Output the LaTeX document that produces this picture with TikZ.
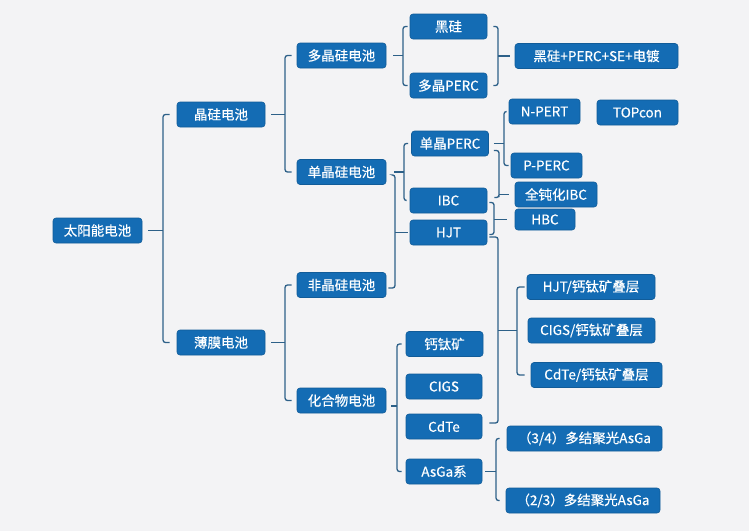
\documentclass[tikz,border=0pt]{standalone}
\usepackage{fontspec}
\setmainfont{Noto Sans CJK SC}[FakeBold=0.4]
\usetikzlibrary{positioning}

\begin{document}
\begin{tikzpicture}[x=1pt, y=-1pt, every node/.style={font=\fontsize{13.5}{15}\selectfont},
    cell/.style={rectangle, rounded corners=3pt, fill=cellblue, draw=cellblue!85!black, line width=0.6pt,
        text=white, minimum height=25, inner sep=0pt},
    link/.style={draw=linkblue, line width=1.3pt, rounded corners=2.5pt}]
    % Define consistent colors
    \definecolor{cellblue}{RGB}{20,108,180}
    \definecolor{linkblue}{RGB}{45,96,136}
    \definecolor{paper}{RGB}{243,243,245}

    \fill[paper] (0,0) rectangle (749,531);

    % Boxes
    \node[cell, minimum width=89] (root) at (97.5,230.5) {太阳能电池};
    \node[cell, minimum width=88] (jg) at (221,114.5) {晶硅电池};
    \node[cell, minimum width=88] (bm) at (221,342.5) {薄膜电池};
    \node[cell, minimum width=89] (djg) at (341.5,55.5) {多晶硅电池};
    \node[cell, minimum width=89] (dan) at (341.5,172) {单晶硅电池};
    \node[cell, minimum width=89] (fei) at (341.5,285) {非晶硅电池};
    \node[cell, minimum width=89] (hhw) at (341.5,400.5) {化合物电池};
    \node[cell, minimum width=77] (hg) at (448.5,26.5) {黑硅};
    \node[cell, minimum width=77] (dperc) at (448.5,85.5) {多晶PERC};
    \node[cell, minimum width=163] (mix) at (596.5,56) {黑硅+PERC+SE+电镀};
    \node[cell, minimum width=77] (sperc) at (450,143.5) {单晶PERC};
    \node[cell, minimum width=77] (ibc) at (448.5,200.5) {IBC};
    \node[cell, minimum width=77] (hjt) at (448.5,232.5) {HJT};
    \node[cell, minimum width=71] (npert) at (544.5,111.5) {N-PERT};
    \node[cell, minimum width=81] (topcon) at (637.5,112.5) {TOPcon};
    \node[cell, minimum width=71] (pperc) at (546.5,165.5) {P-PERC};
    \node[cell, minimum width=82] (qibc) at (556,194.5) {全钝化IBC};
    \node[cell, minimum width=60, minimum height=21] (hbc) at (545,219.5) {HBC};
    \node[cell, minimum width=128] (hjtp) at (591,287) {HJT/钙钛矿叠层};
    \node[cell, minimum width=127] (cigsp) at (591.5,330.5) {CIGS/钙钛矿叠层};
    \node[cell, minimum width=131] (cdtep) at (596.5,375) {CdTe/钙钛矿叠层};
    \node[cell, minimum width=77] (gtk) at (444.5,344) {钙钛矿};
    \node[cell, minimum width=76] (cigs) at (444,386.5) {CIGS};
    \node[cell, minimum width=76] (cdte) at (444,426.5) {CdTe};
    \node[cell, minimum width=76] (asga) at (444,471.5) {AsGa系};
    \node[cell, minimum width=155] (g34) at (584.5,438.5) {（3/4）多结聚光AsGa};
    \node[cell, minimum width=154] (g23) at (583,500.5) {（2/3）多结聚光AsGa};

    % Opening brackets
    \coordinate (s1) at (163,230.5);
    \draw[link] ([xshift=6]root.east) -- (s1);
    \draw[link] ([xshift=-7]jg.west) -| (s1) |- ([xshift=-7]bm.west);

    \coordinate (s2) at (285,114.5);
    \draw[link] ([xshift=6]jg.east) -- (s2);
    \draw[link] ([xshift=-5]djg.west) -| (s2) |- ([xshift=-5]dan.west);

    \coordinate (s3) at (403,55.5);
    \draw[link] ([xshift=7]djg.east) -- (s3);
    \draw[link] ([xshift=-2]hg.west) -| (s3) |- ([xshift=-2]dperc.west);

    \coordinate (s4) at (404,172);
    \draw[link] ([xshift=8]dan.east) -- (s4);
    \draw[link] ([xshift=-3]sperc.west) -| (s4) |- ([xshift=-3]ibc.west);

    \coordinate (s5) at (504,143.5);
    \draw[link] ([xshift=5]sperc.east) -- (s5);
    \draw[link] ([xshift=-2]npert.west) -| (s5) |- ([xshift=-2]pperc.west);

    \coordinate (s6) at (517,330.5);
    \draw[link] ([xshift=-2]hjtp.west) -| (s6) |- ([xshift=-6]cdtep.west);

    \coordinate (s7) at (285,342.5);
    \draw[link] ([xshift=6]bm.east) -- (s7);
    \draw[link] ([xshift=-5]fei.west) -| (s7) |- ([xshift=-5]hhw.west);

    \coordinate (s8) at (397,406);
    \draw[link] ([xshift=5,yshift=-5.5]hhw.east) -- (s8);
    \draw[link] ([xshift=-4]gtk.west) -| (s8) |- ([xshift=-4]asga.west);

    \coordinate (s9) at (496,471.5);
    \draw[link] ([xshift=3]asga.east) -- (s9);
    \draw[link] ([xshift=-7]g34.west) -| (s9) |- ([xshift=-6]g23.west);

    % Closing brackets
    \coordinate (c1) at (498,56);
    \draw[link] ([xshift=6]hg.east) -| (c1) |- ([xshift=6]dperc.east);
    \draw[link] (c1) -- ([xshift=-5]mix.west);

    \coordinate (c2) at (499,194.5);
    \draw[link] ([xshift=5,yshift=-7]sperc.east) -| (c2) |- ([xshift=7,yshift=3]ibc.east);
    \draw[link] (c2) -- ([xshift=-6]qibc.west);

    \coordinate (c3) at (494,219.5);
    \draw[link] ([xshift=2,yshift=-2]ibc.east) -| (c3) |- ([xshift=2,yshift=-2]hjt.east);
    \draw[link] (c3) -- ([xshift=-8]hbc.west);

    \coordinate (c4) at (498,330.5);
    \draw[link] ([xshift=2,yshift=-4.5]hjt.east) -| (c4) |- ([xshift=7,yshift=3.5]cdte.east);
    \draw[link] (c4) -- (s6);

    \coordinate (c5) at (395,232.5);
    \draw[link] ([xshift=7,yshift=-3]dan.east) -| (c5) |- ([xshift=2,yshift=-3]fei.east);
    \draw[link] (c5) -- ([xshift=-2]hjt.west);
\end{tikzpicture}
\end{document}
